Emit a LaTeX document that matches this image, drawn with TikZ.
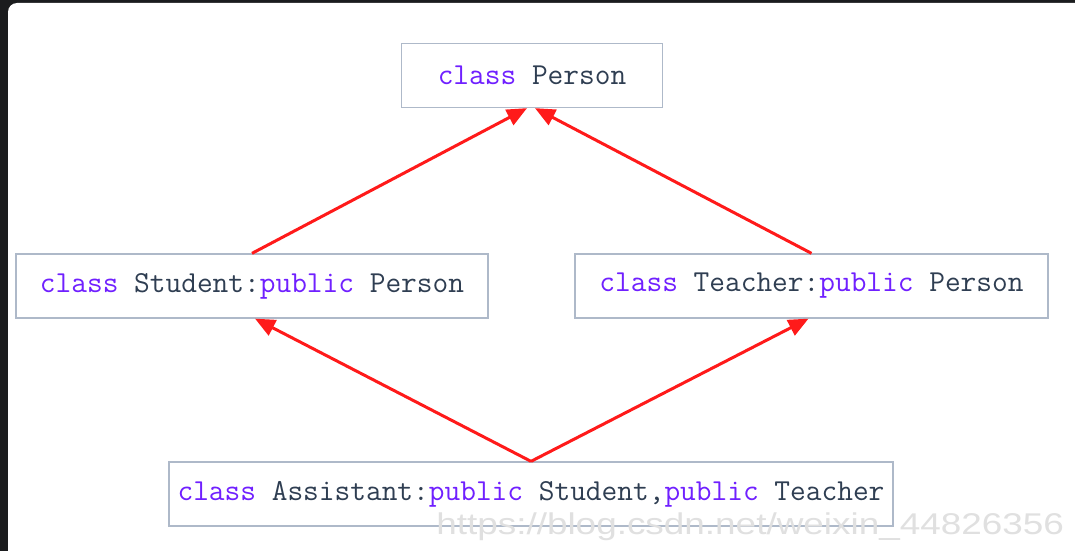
\documentclass[tikz,border=0pt]{standalone}
\usepackage{fontspec}
\newfontfamily\codefont{Latin Modern Mono}
\setsansfont{Liberation Sans}
\usetikzlibrary{arrows.meta}
\definecolor{frame}{HTML}{1B1C1E}
\definecolor{kw}{HTML}{7020FF}
\definecolor{txt}{HTML}{2F3E52}
\definecolor{boxline}{HTML}{AEB9C9}
\definecolor{arr}{HTML}{FF1A1A}
\definecolor{wm}{HTML}{E0E0E0}
\newcommand{\kw}[1]{\textcolor{kw}{#1}}
\begin{document}
\begin{tikzpicture}[x=1pt,y=-1pt,
  cls/.style={draw=boxline,line width=1.3pt,fill=white,inner sep=0pt,
    minimum height=64pt,font=\codefont\fontsize{30.5}{34}\selectfont,text=txt},
  inh/.style={draw=arr,line width=3pt,-{Triangle[length=20pt,width=17pt]}}]
\useasboundingbox (0,0) rectangle (1075,551);
\fill[frame] (0,0) rectangle (1075,551);
\begin{scope}
\clip (0,0) rectangle (1075,551);
\fill[white,rounded corners=9pt] (8,3) rectangle (1100,580);
\end{scope}
\node[cls,minimum width=261pt] (P) at (532,75.5) {\kw{class} Person};
\node[cls,minimum width=472pt] (S) at (252,286) {\kw{class} Student:\kw{public} Person};
\node[cls,minimum width=473pt] (T) at (811.5,286) {\kw{class} Teacher:\kw{public} Person};
\node[cls,minimum width=724pt] (A) at (531,494) {\kw{class} Assistant:\kw{public} Student,\kw{public} Teacher};
\draw[inh] (S.north) -- ([xshift=-5pt]P.south);
\draw[inh] (T.north) -- ([xshift=3pt]P.south);
\draw[inh] (A.north) -- ([xshift=3pt]S.south);
\draw[inh] (A.north) -- ([xshift=-3pt]T.south);
\node[anchor=west,inner sep=0pt,text=wm,font=\sffamily\fontsize{30}{34}\selectfont,xscale=1.23] (W) at (436,527) {https://blog.csdn.net/weixin\_44826356};
\end{tikzpicture}
\end{document}
